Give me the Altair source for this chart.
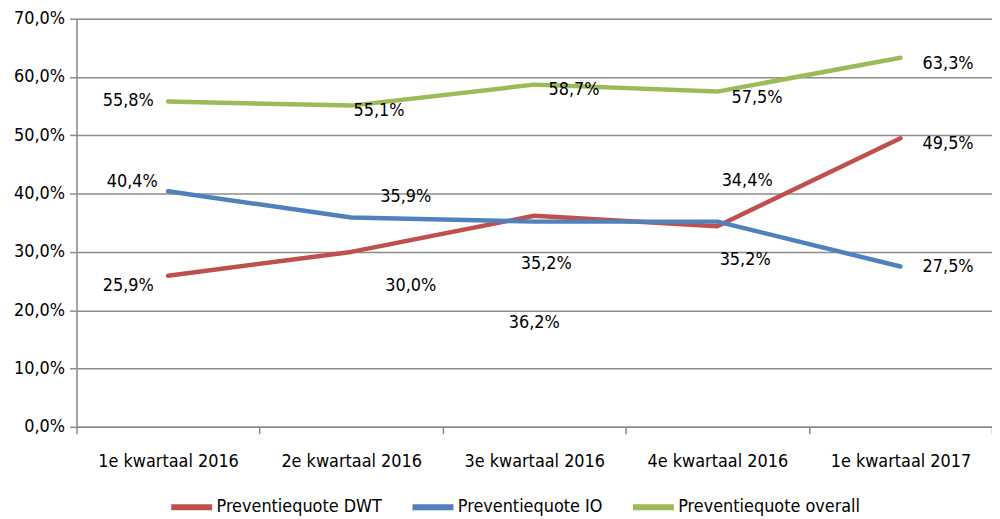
import altair as alt
import pandas as pd

categories = ["1e kwartaal 2016", "2e kwartaal 2016", "3e kwartaal 2016", "4e kwartaal 2016", "1e kwartaal 2017"]
series_names = ["Preventiequote DWT", "Preventiequote IO", "Preventiequote overall"]
dwt = [25.9, 30.0, 36.2, 34.4, 49.5]
io = [40.4, 35.9, 35.2, 35.2, 27.5]
overall = [55.8, 55.1, 58.7, 57.5, 63.3]
colors = ["#C0504D", "#4F81BD", "#9BBB59"]

# label placement (pixel offsets from the point), layout only
label_offsets = {
    "Preventiequote DWT": [(-40, 10), (60, 34), (0, 108), (30, -46), (48, 6)],
    "Preventiequote IO": [(-36, -9), (55, -21), (12, 43), (28, 39), (48, 1)],
    "Preventiequote overall": [(-40, 0), (28, 5), (40, 5), (40, 6), (48, 6)],
}

rows = []
for name, vals in zip(series_names, [dwt, io, overall]):
    for i, (c, v) in enumerate(zip(categories, vals)):
        rows.append({"series": name, "cat": c, "idx": i, "value": v,
                     "label": f"{v:.1f}".replace(".", ",") + "%"})
df = pd.DataFrame(rows)

FONT = "Liberation Sans Narrow, Arial Narrow, DejaVu Sans Condensed, sans-serif"
GRID = "#8c8c8c"

x_enc = alt.X("cat:N", sort=categories, title=None,
              scale=alt.Scale(type="band", paddingInner=0, paddingOuter=0),
              axis=alt.Axis(labelAngle=0, tickBand="extent", domainColor=GRID, domainWidth=1.5,
                            tickColor=GRID, tickWidth=1.5, tickSize=7, labelPadding=19,
                            labelFontSize=18, labelFont=FONT, labelColor="#000"))
y_enc = alt.Y("value:Q", title=None,
              scale=alt.Scale(domain=[0, 70], nice=False),
              axis=alt.Axis(values=list(range(0, 71, 10)),
                            labelExpr="replace(format(datum.value, '.1f'), '.', ',') + '%'",
                            grid=True, gridColor=GRID, gridWidth=1.5,
                            domainColor=GRID, domainWidth=1.5, tickColor=GRID, tickWidth=1.5,
                            tickSize=7, labelPadding=5, labelFontSize=18, labelFont=FONT,
                            labelColor="#000"))

base = alt.Chart(df)
lines = base.mark_line(strokeWidth=4.5, strokeCap="round", strokeJoin="round").encode(
    x=x_enc, y=y_enc,
    color=alt.Color("series:N", sort=series_names,
                    scale=alt.Scale(domain=series_names, range=colors),
                    legend=alt.Legend(title=None, orient="none", direction="horizontal",
                                      legendX=92, legendY=468, symbolType="stroke",
                                      symbolSize=1700, symbolStrokeWidth=6,
                                      labelFontSize=18, labelFont=FONT, labelColor="#000",
                                      labelOffset=1, columnPadding=18, labelLimit=300)),
    order=alt.Order("idx:Q"),
    detail="series:N",
)

layers = [lines]
for name in series_names:
    for i, (dx, dy) in enumerate(label_offsets[name]):
        layers.append(
            base.transform_filter(f"datum.series == '{name}' && datum.idx == {i}")
            .mark_text(dx=dx, dy=dy, fontSize=18, font=FONT, color="#000")
            .encode(x=alt.X("cat:N", sort=categories), y="value:Q", text="label:N")
        )

chart = alt.layer(*layers).properties(
    width=922, height=411,
    padding={"left": 69, "top": 9, "right": 0, "bottom": 88},
    autosize=alt.AutoSizeParams(type="none"),
).configure_view(stroke=None).configure(background="white")

chart.save("out.html", embed_options={"renderer": "svg", "actions": False})
